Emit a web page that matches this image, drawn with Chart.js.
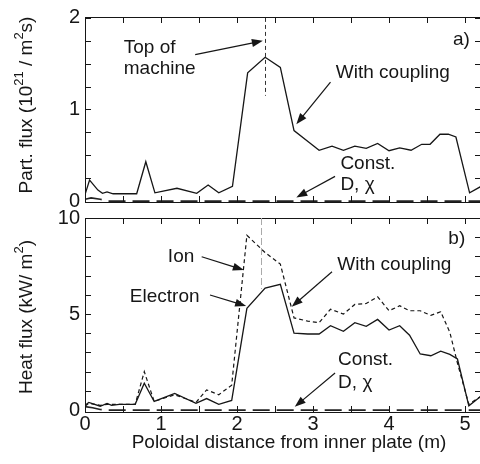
<!DOCTYPE html>
<html><head><meta charset="utf-8">
<script src="https://cdn.jsdelivr.net/npm/chart.js@4"></script>
<style>
html,body{margin:0;padding:0;background:#fff;overflow:hidden;width:480px;height:464px}
canvas{position:absolute;left:0;top:0}
</style></head><body>
<canvas id="partChart" width="482" height="464"></canvas>
<canvas id="heatChart" width="482" height="464"></canvas>
<script>
// Poloidal distance from the inner plate (m)
const partX = [0.00,0.06,0.17,0.23,0.29,0.37,0.68,0.80,0.92,1.21,1.47,1.62,1.76,1.94,2.14,2.37,2.57,2.75,2.95,3.08,3.25,3.40,3.55,3.70,3.85,4.00,4.14,4.29,4.43,4.54,4.67,4.78,4.88,5.06,5.21];
// Particle flux with coupling (10^21 m^-2 s^-1)
const partCoupled = [0.07,0.23,0.12,0.085,0.10,0.08,0.08,0.43,0.09,0.14,0.085,0.175,0.09,0.16,1.40,1.57,1.46,0.77,0.64,0.555,0.60,0.555,0.60,0.575,0.63,0.55,0.58,0.555,0.62,0.62,0.73,0.73,0.70,0.09,0.16];
// Particle flux with constant D, chi
const partConstX = [0.00,0.08,0.20,0.30,5.21];
const partConst = [0.02,0.035,0.02,0.0,0.0];

const heatX = [0.00,0.05,0.20,0.29,0.35,0.45,0.66,0.78,0.91,1.18,1.46,1.60,1.76,1.93,2.13,2.37,2.57,2.75,2.93,3.08,3.23,3.40,3.55,3.70,3.85,4.00,4.14,4.27,4.41,4.55,4.68,4.80,4.90,5.05,5.21];
// Heat flux (kW m^-2), electron and ion channels with coupling
const heatElectron = [0.25,0.40,0.20,0.35,0.25,0.30,0.30,1.40,0.45,0.87,0.35,0.60,0.30,0.50,5.30,6.35,6.55,4.00,3.96,3.96,4.39,4.10,4.55,4.36,4.72,4.17,4.39,3.90,2.92,2.83,3.07,2.90,2.66,0.22,0.72];
const heatIon = [0.20,0.35,0.25,0.30,0.30,0.30,0.30,2.00,0.45,0.80,0.40,1.05,0.80,1.30,9.10,8.20,7.60,4.80,4.63,4.55,5.25,5.00,5.50,5.55,5.90,5.17,5.43,5.17,5.17,4.93,5.12,4.05,2.45,0.30,0.72];
// Heat flux with constant D, chi
const heatConstX = [0.00,0.10,0.20,0.30,5.21];
const heatConst = [0.18,0.12,0.03,0.0,0.0];

const xTicks = [0,1,2,3,4,5];
const partTicks = [0,1,2];
const heatTicks = [0,5,10];

const FONT = '"Liberation Sans", Arial, Helvetica, sans-serif';
const INK = '#161616';

const pts = (xs, ys) => xs.map((x, i) => ({x, y: ys[i]}));

function drawRich(ctx, parts, size, x, y, angle) {
  ctx.save();
  ctx.translate(x, y);
  ctx.rotate(angle);
  ctx.textBaseline = 'middle';
  ctx.textAlign = 'left';
  let w = 0;
  for (const p of parts) {
    ctx.font = (p.sup ? Math.round(size * 0.68) : size) + 'px ' + FONT;
    w += ctx.measureText(p.t).width;
  }
  let cx = -w / 2;
  for (const p of parts) {
    ctx.font = (p.sup ? Math.round(size * 0.68) : size) + 'px ' + FONT;
    ctx.fillText(p.t, cx, p.sup ? -size * 0.42 : 0);
    cx += ctx.measureText(p.t).width;
  }
  ctx.restore();
}

function arrow(ctx, x0, y0, x1, y1) {
  const a = Math.atan2(y1 - y0, x1 - x0);
  const L = 11, H = 4;
  ctx.beginPath();
  ctx.moveTo(x0, y0);
  ctx.lineTo(x1 - L * 0.8 * Math.cos(a), y1 - L * 0.8 * Math.sin(a));
  ctx.stroke();
  ctx.beginPath();
  ctx.moveTo(x1, y1);
  ctx.lineTo(x1 - L * Math.cos(a) + H * Math.sin(a), y1 - L * Math.sin(a) - H * Math.cos(a));
  ctx.lineTo(x1 - L * Math.cos(a) - H * Math.sin(a), y1 - L * Math.sin(a) + H * Math.cos(a));
  ctx.closePath();
  ctx.fill();
}

// Box frame with inward ticks, marker line, labels and arrows
const panelDecor = {
  id: 'panelDecor',
  afterDatasetsDraw(chart, args, o) {
    const {ctx, chartArea: a, scales: {x, y}} = chart;
    ctx.save();
    ctx.strokeStyle = INK; ctx.fillStyle = INK; ctx.lineWidth = 1;
    ctx.strokeRect(Math.round(a.left) + 0.5, Math.round(a.top) + 0.5, Math.round(a.right - a.left), Math.round(a.bottom - a.top));
    const T = 6;
    ctx.beginPath();
    for (let v = o.xStep; v < x.max; v += o.xStep) {
      const px = Math.round(x.getPixelForValue(v)) + 0.5;
      ctx.moveTo(px, a.top); ctx.lineTo(px, a.top + T);
      ctx.moveTo(px, a.bottom); ctx.lineTo(px, a.bottom - T);
    }
    for (let v = o.yStep; v < y.max; v += o.yStep) {
      const py = Math.round(y.getPixelForValue(v)) + 0.5;
      ctx.moveTo(a.left, py); ctx.lineTo(a.left + T, py);
      ctx.moveTo(a.right, py); ctx.lineTo(a.right - T, py);
    }
    ctx.stroke();
    // position marker
    const m = o.marker;
    ctx.strokeStyle = m.color; ctx.setLineDash(m.dash);
    ctx.beginPath();
    const mx = Math.round(x.getPixelForValue(m.x)) + 0.5;
    ctx.moveTo(mx, y.getPixelForValue(m.y0)); ctx.lineTo(mx, y.getPixelForValue(m.y1));
    ctx.stroke();
    ctx.setLineDash([]);
    ctx.strokeStyle = INK; ctx.lineWidth = 1.2;
    for (const r of o.arrows) {
      arrow(ctx, x.getPixelForValue(r[0]), y.getPixelForValue(r[1]), x.getPixelForValue(r[2]), y.getPixelForValue(r[3]));
    }
    ctx.font = '19px ' + FONT; ctx.textBaseline = 'middle'; ctx.textAlign = 'left';
    for (const t of o.texts) ctx.fillText(t.t, x.getPixelForValue(t.x), y.getPixelForValue(t.y));
    for (const t of o.titles) drawRich(ctx, t.parts, 19, t.px, t.py, t.angle);
    ctx.restore();
  }
};

function makeChart(id, cfg) {
  return new Chart(document.getElementById(id), {
    type: 'line',
    data: {datasets: cfg.datasets},
    options: {
      responsive: false, animation: false, devicePixelRatio: 1,
      layout: {padding: cfg.padding},
      elements: {point: {radius: 0}, line: {tension: 0}},
      plugins: {legend: {display: false}, tooltip: {enabled: false}, panelDecor: cfg.decor},
      scales: {
        x: {
          type: 'linear', min: 0, max: 5.21, display: cfg.showX,
          grid: {display: false, drawTicks: false}, border: {display: false},
          afterBuildTicks: s => { s.ticks = xTicks.map(v => ({value: v})); },
          afterFit: s => { s.height = cfg.showX ? 52 : 0; },
          ticks: {padding: 0, color: INK, font: {family: FONT, size: 20}, maxRotation: 0}
        },
        y: {
          type: 'linear', min: cfg.yMin, max: cfg.yMax,
          grid: {display: false, drawTicks: false}, border: {display: false},
          afterBuildTicks: s => { s.ticks = cfg.yTicks.map(v => ({value: v})); },
          afterFit: s => { s.width = 85; },
          ticks: {padding: 5, color: INK, font: {family: FONT, size: 20}}
        }
      }
    },
    plugins: [panelDecor]
  });
}

makeChart('partChart', {
  padding: {top: 8, left: 0, right: 1, bottom: 262},
  showX: false, yMin: -0.01, yMax: 2.01, yTicks: partTicks,
  datasets: [
    {data: pts(partX, partCoupled), borderColor: INK, borderWidth: 1.3},
    {data: pts(partConstX, partConst), borderColor: '#222', borderWidth: 1.7, borderDash: [17, 7]}
  ],
  decor: {
    xStep: 0.5, yStep: 0.25,
    marker: {x: 2.37, y0: 2.0, y1: 1.15, color: '#333', dash: [4, 3]},
    arrows: [[1.45, 1.60, 2.34, 1.75], [3.23, 1.30, 2.78, 0.84], [3.29, 0.27, 2.78, 0.04]],
    texts: [
      {t: 'Top of', x: 0.51, y: 1.67}, {t: 'machine', x: 0.51, y: 1.45},
      {t: 'With coupling', x: 3.30, y: 1.40},
      {t: 'Const.', x: 3.36, y: 0.41}, {t: 'D, χ', x: 3.36, y: 0.18},
      {t: 'a)', x: 4.84, y: 1.76}
    ],
    titles: [
      {parts: [{t: 'Part. flux (10'}, {t: '21', sup: true}, {t: ' / m'}, {t: '2', sup: true}, {t: 's)'}], px: 27, py: 105, angle: -Math.PI / 2}
    ]
  }
});

makeChart('heatChart', {
  padding: {top: 218, left: 0, right: 1, bottom: 0},
  showX: true, yMin: -0.1, yMax: 10, yTicks: heatTicks,
  datasets: [
    {data: pts(heatX, heatElectron), borderColor: INK, borderWidth: 1.3},
    {data: pts(heatX, heatIon), borderColor: INK, borderWidth: 1.2, borderDash: [4, 3]},
    {data: pts(heatConstX, heatConst), borderColor: '#222', borderWidth: 1.7, borderDash: [17, 7]}
  ],
  decor: {
    xStep: 0.5, yStep: 1,
    marker: {x: 2.32, y0: 10, y1: 6.3, color: '#aaa', dash: [7, 3]},
    arrows: [[1.535, 7.98, 2.09, 7.29], [1.645, 5.99, 2.12, 5.42], [3.25, 7.20, 2.72, 5.38], [3.29, 1.93, 2.76, 0.17]],
    texts: [
      {t: 'Ion', x: 1.09, y: 7.97}, {t: 'Electron', x: 0.59, y: 5.89},
      {t: 'With coupling', x: 3.32, y: 7.55},
      {t: 'Const.', x: 3.33, y: 2.60}, {t: 'D, χ', x: 3.33, y: 1.41},
      {t: 'b)', x: 4.78, y: 8.9}
    ],
    titles: [
      {parts: [{t: 'Heat flux (kW/ m'}, {t: '2', sup: true}, {t: ')'}], px: 27, py: 317, angle: -Math.PI / 2},
      {parts: [{t: 'Poloidal distance from inner plate (m)'}], px: 289, py: 443, angle: 0}
    ]
  }
});
</script>
</body></html>
